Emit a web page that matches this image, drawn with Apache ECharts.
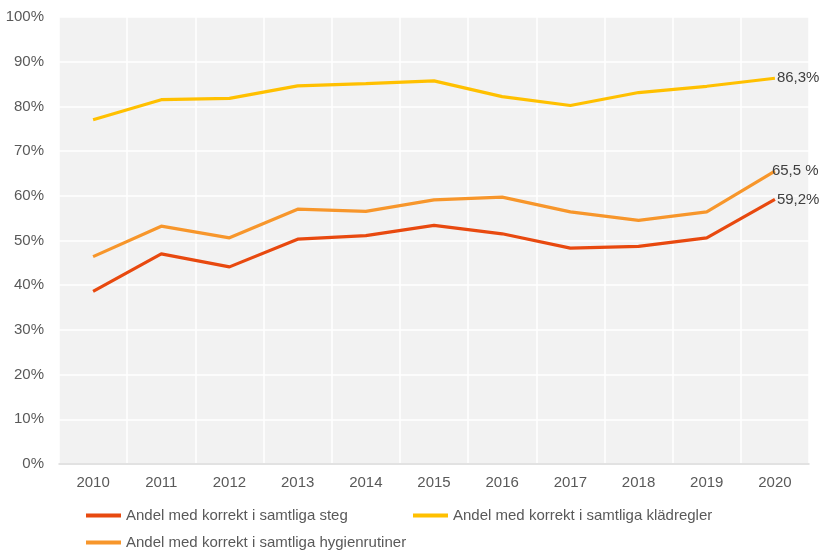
<!DOCTYPE html>
<html>
<head>
<meta charset="utf-8">
<script src="https://cdn.jsdelivr.net/npm/echarts@6/dist/echarts.min.js"></script>
<style>
  html, body { margin: 0; padding: 0; background: #ffffff; }
  #chart { width: 822px; height: 552px; }
</style>
</head>
<body>
<div id="chart"></div>
<script>
const years = ['2010', '2011', '2012', '2013', '2014', '2015', '2016', '2017', '2018', '2019', '2020'];
const stegName = 'Andel med korrekt i samtliga steg';
const kladName = 'Andel med korrekt i samtliga klädregler';
const hygName = 'Andel med korrekt i samtliga hygienrutiner';
const steg = [38.6, 47.0, 44.1, 50.3, 51.1, 53.4, 51.5, 48.3, 48.7, 50.6, 59.2];
const klad = [77.0, 81.5, 81.8, 84.6, 85.1, 85.7, 82.2, 80.2, 83.1, 84.5, 86.3];
const hyg = [46.4, 53.2, 50.6, 57.0, 56.5, 59.1, 59.7, 56.4, 54.5, 56.4, 65.5];
const endLabels = { steg: '59,2%', klad: '86,3%', hyg: '65,5 %' };

const font = 'Liberation Sans, Arial, sans-serif';

function lineSeries(name, data, color, text, dist) {
  return {
    name: name,
    type: 'line',
    data: data,
    symbol: 'none',
    smooth: false,
    lineStyle: { color: color, width: 3.2 },
    itemStyle: { color: color },
    endLabel: {
      show: true,
      distance: dist,
      color: '#404040',
      fontSize: 15,
      fontFamily: font,
      formatter: () => text
    },
    emphasis: { disabled: true },
    z: 3
  };
}

function legendAt(name, left, top) {
  return {
    data: [name],
    left: left,
    top: top,
    orient: 'horizontal',
    icon: 'rect',
    itemWidth: 35,
    itemHeight: 4,
    itemGap: 0,
    padding: 0,
    selectedMode: false,
    textStyle: { color: '#595959', fontSize: 15, fontFamily: font }
  };
}

const chart = echarts.init(document.getElementById('chart'), null, { renderer: 'canvas' });
chart.setOption({
  animation: false,
  backgroundColor: '#ffffff',
  grid: {
    left: 59, right: 13, top: 17, bottom: 88,
    show: true, backgroundColor: '#f2f2f2', borderWidth: 0
  },
  legend: [
    legendAt(stegName, 86, 508),
    legendAt(kladName, 413, 508),
    legendAt(hygName, 86, 535)
  ],
  xAxis: {
    type: 'category',
    data: years,
    boundaryGap: true,
    axisLine: { show: true, lineStyle: { color: '#d9d9d9', width: 1.5 } },
    axisTick: { show: false },
    axisLabel: { color: '#595959', fontSize: 15, fontFamily: font, margin: 11 },
    splitLine: { show: true, lineStyle: { color: '#ffffff', width: 1.5 } }
  },
  yAxis: {
    type: 'value',
    min: 0,
    max: 100,
    interval: 10,
    axisLine: { show: false },
    axisTick: { show: false },
    axisLabel: {
      color: '#595959', fontSize: 15, fontFamily: font, margin: 15,
      formatter: (v) => v + '%'
    },
    splitLine: { show: true, lineStyle: { color: '#ffffff', width: 1.5 } }
  },
  series: [
    lineSeries(stegName, steg, '#e8490f', endLabels.steg, 2),
    lineSeries(kladName, klad, '#ffc000', endLabels.klad, 2),
    lineSeries(hygName, hyg, '#f7962b', endLabels.hyg, -3)
  ]
});
</script>
</body>
</html>
